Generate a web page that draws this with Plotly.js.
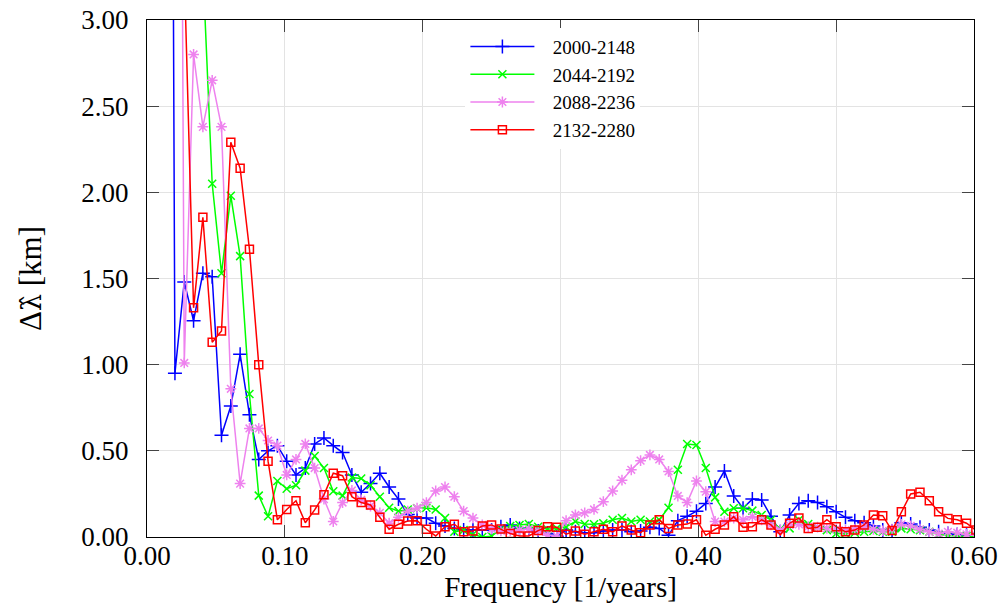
<!DOCTYPE html>
<html>
<head>
<meta charset="utf-8">
<script src="https://cdn.plot.ly/plotly-3.0.1.min.js"></script>
<style>
  html, body { margin: 0; padding: 0; background: #ffffff; }
  #chart { width: 1007px; height: 612px; }
</style>
</head>
<body>
<div id="chart"></div>
<script>
// Periodogram of the four 148-year windows; harmonic k sits at frequency k/148 [1/years].
const windowLength = 148;
const harmonics = [];
for (let k = 2; k <= 89; k++) harmonics.push(k);
const frequency = harmonics.map(k => k / windowLength);

// Amplitudes [km] for harmonics k = 2 .. 89 (null: not computed)
const series2000 = [
  14.0, 0.95, 1.48, 1.255, 1.53, 1.51, 0.59, 0.76, 1.06, 0.71,
  0.45, 0.50, 0.53, 0.44, 0.36, 0.40, 0.54, 0.575, 0.53, 0.49,
  0.36, 0.26, 0.31, 0.37, 0.29, 0.22, 0.13, 0.11, 0.11, 0.08,
  0.064, 0.05, 0.04, 0.04, 0.04, 0.04, 0.06, 0.07, 0.05, 0.05,
  0.035, 0.02, 0.005, 0.04, 0.03, 0.025, 0.025, 0.035, 0.04, 0.04,
  0.03, 0.035, 0.056, 0.05, 0.01, 0.095, 0.12, 0.15, 0.195, 0.29,
  0.383, 0.238, 0.167, 0.22, 0.215, 0.12, 0.03, 0.128, 0.195, 0.21,
  0.20, 0.176, 0.147, 0.114, 0.095, 0.083, 0.064, 0.04, 0.035, 0.083,
  0.076, 0.057, 0.04, 0.03, 0.02, 0.015, 0.01, 0.005
];
const series2044 = [
  null, null, 6.0, 4.5, 3.3, 2.05, 1.53, 1.98, 1.63, 0.83,
  0.24, 0.12, 0.325, 0.28, 0.30, 0.385, 0.47, 0.40, 0.265, 0.24,
  0.345, 0.34, 0.30, 0.234, 0.17, 0.15, 0.16, 0.167, 0.17, 0.16,
  0.11, 0.03, 0.04, 0.015, 0.0, 0.005, 0.045, 0.064, 0.07, 0.075,
  0.06, 0.045, 0.05, 0.06, 0.09, 0.075, 0.074, 0.08, 0.10, 0.11,
  0.09, 0.10, 0.09, 0.10, 0.17, 0.39, 0.54, 0.534, 0.40, 0.23,
  0.147, 0.167, 0.167, 0.153, 0.128, 0.10, 0.045, 0.05, 0.10, 0.075,
  0.057, 0.04, 0.02, 0.02, 0.025, 0.03, 0.035, 0.03, 0.03, 0.05,
  0.045, 0.04, 0.03, 0.015, 0.01, 0.005, 0.005, 0.005
];
const series2088 = [
  null, 12.0, 1.01, 2.80, 2.38, 2.65, 2.38, 0.86, 0.31, 0.63,
  0.63, 0.56, 0.53, 0.36, 0.45, 0.54, 0.40, 0.22, 0.09, 0.20,
  0.27, 0.215, 0.18, 0.14, 0.08, 0.114, 0.15, 0.167, 0.20, 0.267,
  0.29, 0.234, 0.15, 0.11, 0.07, 0.046, 0.035, 0.035, 0.04, 0.046,
  0.035, 0.01, 0.005, 0.095, 0.128, 0.14, 0.16, 0.205, 0.267, 0.33,
  0.39, 0.443, 0.476, 0.45, 0.38, 0.238, 0.20, 0.325, 0.263, 0.09,
  0.09, 0.11, 0.10, 0.118, 0.10, 0.07, 0.04, 0.07, 0.073, 0.06,
  0.057, 0.05, 0.045, 0.04, 0.045, 0.057, 0.045, 0.035, 0.045, 0.073,
  0.064, 0.045, 0.03, 0.02, 0.03, 0.025, 0.015, 0.01
];
const series2132 = [
  null, 8.0, 3.3, 1.33, 1.855, 1.13, 1.195, 2.29, 2.14, 1.67,
  1.00, 0.44, 0.10, 0.16, 0.21, 0.083, 0.157, 0.245, 0.37, 0.356,
  0.234, 0.20, 0.186, 0.114, 0.045, 0.074, 0.093, 0.095, 0.045, 0.006,
  0.06, 0.074, 0.03, 0.035, 0.064, 0.07, 0.046, 0.02, 0.006, 0.006,
  0.037, 0.06, 0.056, 0.016, 0.035, 0.016, 0.03, 0.045, 0.03, 0.064,
  0.04, 0.025, 0.07, 0.10, 0.05, 0.07, 0.075, 0.10, 0.01, 0.045,
  0.07, 0.118, 0.056, 0.06, 0.10, 0.07, 0.013, 0.08, 0.11, 0.05,
  0.056, 0.10, 0.06, 0.03, 0.04, 0.07, 0.128, 0.124, 0.037, 0.147,
  0.25, 0.26, 0.21, 0.147, 0.108, 0.10, 0.08, 0.04
];

const seriesNames = ['2000-2148', '2044-2192', '2088-2236', '2132-2280'];
const seriesValues = [series2000, series2044, series2088, series2132];
const seriesColors = ['#0000ff', '#00ff00', '#ee82ee', '#ff0000'];
const seriesSymbols = ['cross-thin-open', 'x-thin-open', 'asterisk-open', 'square-open'];
const seriesSizes = [10, 8, 9, 8];

const traces = seriesValues.map((vals, i) => ({
  type: 'scatter',
  mode: 'lines+markers',
  name: '\u2002\u2009' + seriesNames[i],
  x: frequency,
  y: vals,
  connectgaps: false,
  line: { color: seriesColors[i], width: 1.5 },
  marker: {
    symbol: seriesSymbols[i],
    size: seriesSizes[i],
    color: seriesColors[i],
    line: { color: seriesColors[i], width: 1.5 }
  }
}));

const textFamily = 'Liberation Serif';

const axisCommon = {
  showline: true,
  linecolor: '#000000',
  linewidth: 1.2,
  mirror: 'ticks',
  ticks: 'inside',
  ticklen: 12,
  tickwidth: 1,
  tickcolor: '#444444',
  showgrid: true,
  gridcolor: '#e3e3e3',
  gridwidth: 1,
  zeroline: false,
  tickformat: '.2f',
  tickfont: { family: textFamily, size: 27, color: '#000000' }
};

const layout = {
  width: 1007,
  height: 612,
  font: { family: textFamily, size: 20, color: '#000000' },
  margin: { l: 147, r: 33, t: 20, b: 75 },
  paper_bgcolor: '#ffffff',
  plot_bgcolor: '#ffffff',
  showlegend: true,
  xaxis: Object.assign({}, axisCommon, {
    range: [0, 0.6],
    tick0: 0,
    dtick: 0.1,
    ticklabelstandoff: -6,
    title: { text: 'Frequency [1/years]', font: { family: textFamily, size: 29, color: '#000000' }, standoff: 6 }
  }),
  yaxis: Object.assign({}, axisCommon, {
    range: [0, 3],
    tick0: 0,
    dtick: 0.5,
    ticklabelstandoff: 12,
    title: {
      text: 'Δ<span style="font-family:DejaVu Serif;font-size:27px">λ\u0302</span> [km]',
      font: { family: textFamily, size: 31, color: '#000000' },
      standoff: 30
    }
  }),
  legend: {
    x: 0.385,
    y: 0.985,
    xanchor: 'left',
    yanchor: 'top',
    bgcolor: '#ffffff',
    borderwidth: 0,
    itemwidth: 64,
    font: { family: textFamily, size: 19, color: '#000000' }
  }
};

Plotly.newPlot('chart', traces, layout, { displayModeBar: false, staticPlot: true });
</script>
</body>
</html>
